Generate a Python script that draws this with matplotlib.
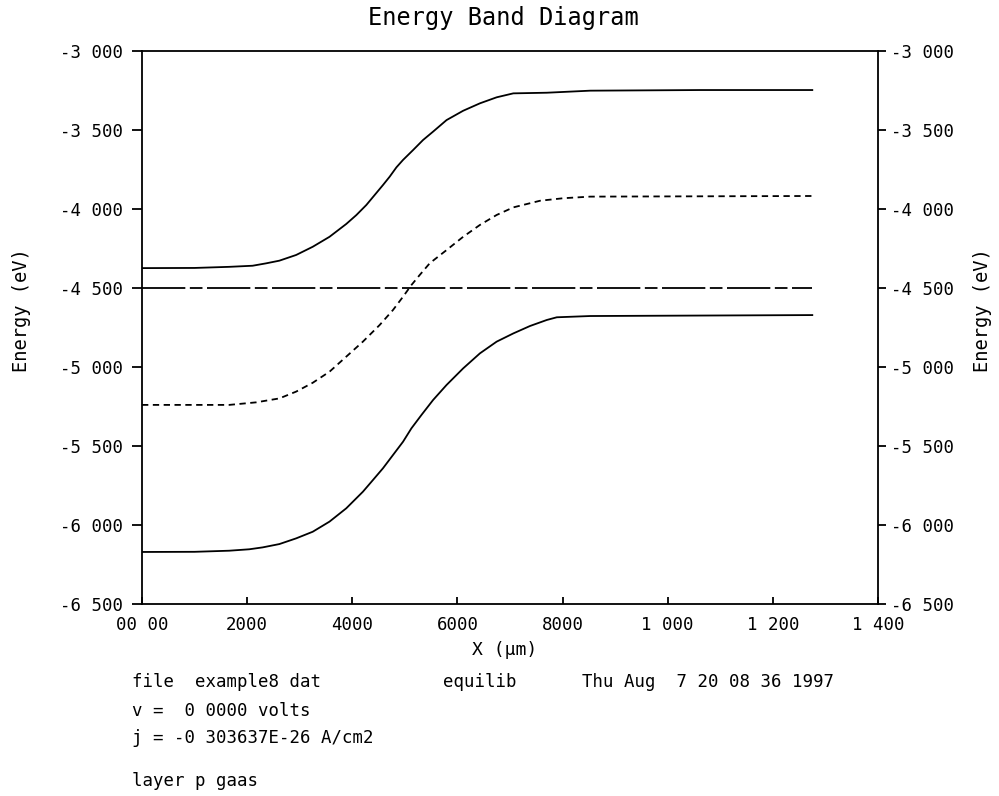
import matplotlib
matplotlib.use("Agg")
import matplotlib.pyplot as plt

# ---- data (x in micrometres, energy in eV) ----
x_ec = [0.0, 0.100, 0.1659, 0.2104, 0.2359, 0.2613, 0.2932, 0.3248, 0.3567, 0.3885, 0.4076, 0.4267,
        0.4425, 0.4583, 0.4711, 0.4839, 0.4965, 0.5155, 0.5346, 0.5537, 0.5793, 0.6109, 0.6428,
        0.6746, 0.7063, 0.7700, 0.8526, 1.062, 1.275]
ec = [-4.376, -4.375, -4.368, -4.361, -4.346, -4.329, -4.293, -4.241, -4.178, -4.097, -4.041, -3.977,
      -3.914, -3.851, -3.798, -3.739, -3.692, -3.630, -3.566, -3.513, -3.440, -3.381, -3.334,
      -3.296, -3.271, -3.267, -3.254, -3.250, -3.250]

x_ev = [0.0, 0.100, 0.1659, 0.2041, 0.2295, 0.2613, 0.2932, 0.3248, 0.3567, 0.3885, 0.4202, 0.4393,
        0.4583, 0.4774, 0.4965, 0.5125, 0.5315, 0.5537, 0.5793, 0.6109, 0.6428, 0.6746, 0.7063,
        0.7381, 0.7700, 0.7890, 0.8526, 1.275]
ev = [-6.171, -6.170, -6.163, -6.154, -6.142, -6.121, -6.085, -6.043, -5.979, -5.895, -5.790, -5.716,
      -5.642, -5.558, -5.474, -5.389, -5.305, -5.210, -5.115, -5.010, -4.915, -4.841, -4.789,
      -4.742, -4.704, -4.687, -4.679, -4.673]

x_ei = [0.0, 0.1659, 0.2168, 0.2613, 0.2932, 0.3248, 0.3567, 0.3885, 0.4202, 0.4520, 0.4774, 0.4965,
        0.5125, 0.5284, 0.5474, 0.5793, 0.6109, 0.6428, 0.6746, 0.7063, 0.7572, 0.8017, 0.8526, 1.275]
ei = [-5.241, -5.241, -5.225, -5.200, -5.157, -5.101, -5.031, -4.936, -4.841, -4.736, -4.641, -4.557,
      -4.483, -4.419, -4.345, -4.262, -4.178, -4.103, -4.040, -3.992, -3.950, -3.934, -3.924, -3.920]

x_ef = [0.0, 1.275]
ef = [-4.500, -4.500]

xtick_vals = [0.0, 0.2, 0.4, 0.6, 0.8, 1.0, 1.2, 1.4]
xtick_labels = ["00 00", "2000", "4000", "6000", "8000", "1 000", "1 200", "1 400"]
ytick_vals = [-3.0, -3.5, -4.0, -4.5, -5.0, -5.5, -6.0, -6.5]
ytick_labels = ["-3 000", "-3 500", "-4 000", "-4 500", "-5 000", "-5 500", "-6 000", "-6 500"]

title = "Energy Band Diagram"
xlabel = "X (\u00b5m)"
ylabel = "Energy (eV)"
info1 = [("file  example8 dat", 132), ("equilib", 443), ("Thu Aug  7 20 08 36 1997", 582)]
info2 = "v =  0 0000 volts"
info3 = "j = -0 303637E-26 A/cm2"
info4 = "layer p gaas"

plt.rcParams["font.family"] = ["DejaVu Sans Mono"]

W, H = 999, 796
fig = plt.figure(figsize=(W / 100, H / 100), dpi=100)
L, R, T, B = 142, 878, 50.5, 604
ax = fig.add_axes([L / W, 1 - B / H, (R - L) / W, (B - T) / H])

lw = 1.3
ax.plot(x_ec, ec, color="black", lw=lw)
ax.plot(x_ev, ev, color="black", lw=lw)
ax.plot(x_ei, ei, color="black", lw=lw, ls=(0, (3.5, 2.5)))
ax.plot(x_ef, ef, color="black", lw=lw, ls=(0, (24, 2.5, 7, 2.5)))

ax.set_xlim(0, 1.4)
ax.set_ylim(-6.5, -3.0)
for s in ax.spines.values():
    s.set_linewidth(lw)

tick_fs = 12.5
ax.set_xticks(xtick_vals)
ax.set_xticklabels(xtick_labels, fontsize=tick_fs)
ax.tick_params(axis="x", direction="in", length=5, width=lw, pad=9, top=False)
ax.set_yticks(ytick_vals)
ax.set_yticklabels(ytick_labels, fontsize=tick_fs)
ax.tick_params(axis="y", direction="out", length=7, width=lw, pad=7, right=False)

ax2 = ax.twinx()
ax2.set_ylim(-6.5, -3.0)
ax2.set_yticks(ytick_vals)
ax2.set_yticklabels(ytick_labels, fontsize=tick_fs)
ax2.tick_params(axis="y", direction="out", length=6, width=lw, pad=3)
for s in ax2.spines.values():
    s.set_visible(False)

fig.text(503 / W, 1 - 18 / H, title, ha="center", va="center", fontsize=17)
fig.text(22 / W, 1 - 310 / H, ylabel, ha="center", va="center", rotation=90, fontsize=13.5)
fig.text(982 / W, 1 - 310 / H, ylabel, ha="center", va="center", rotation=90, fontsize=13.5)
fig.text(505 / W, 1 - 650 / H, xlabel, ha="center", va="center", fontsize=13)

info_fs = 12.5
for txt, xp in info1:
    fig.text(xp / W, 1 - 682 / H, txt, ha="left", va="center", fontsize=info_fs)
fig.text(132 / W, 1 - 711 / H, info2, ha="left", va="center", fontsize=info_fs)
fig.text(132 / W, 1 - 738 / H, info3, ha="left", va="center", fontsize=info_fs)
fig.text(132 / W, 1 - 781 / H, info4, ha="left", va="center", fontsize=info_fs)

fig.savefig("out.png", dpi=100)
